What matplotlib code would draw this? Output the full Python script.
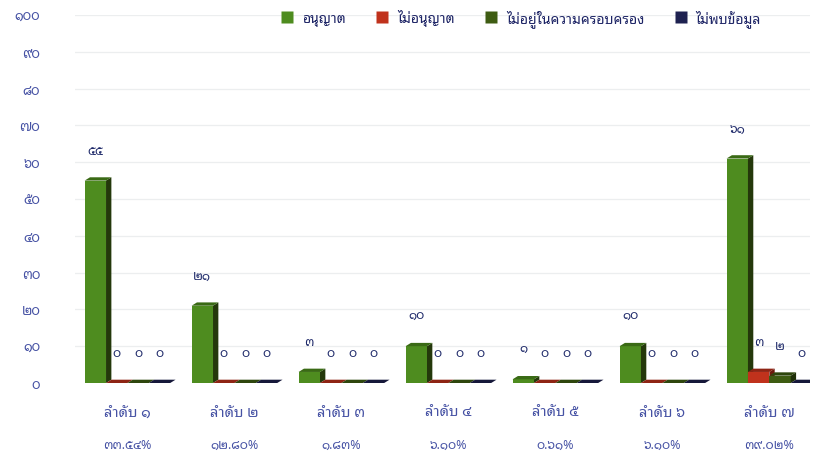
import matplotlib
matplotlib.use('Agg')
import matplotlib.pyplot as plt
from matplotlib.patches import Polygon
from matplotlib.lines import Line2D
import numpy as np

# ข้อมูลจากกราฟ
categories = ['ลำดับ ๑', 'ลำดับ ๒', 'ลำดับ ๓', 'ลำดับ ๔', 'ลำดับ ๕', 'ลำดับ ๖', 'ลำดับ ๗']
percent_labels = ['๓๓.๕๔%', '๑๒.๘๐%', '๑.๘๓%', '๖.๑๐%', '๐.๖๑%', '๖.๑๐%', '๓๙.๐๒%']
series_names = ['อนุญาต', 'ไม่อนุญาต', 'ไม่อยู่ในความครอบครอง', 'ไม่พบข้อมูล']
allowed = [55, 21, 3, 10, 1, 10, 61]
not_allowed = [0, 0, 0, 0, 0, 0, 3]
not_owned = [0, 0, 0, 0, 0, 0, 2]
not_found = [0, 0, 0, 0, 0, 0, 0]
yticks = [0, 10, 20, 30, 40, 50, 60, 70, 80, 90, 100]

face_cols = ['#4e8c1f', '#c0321c', '#3e5c12', '#1e2150']
side_cols = ['#24380b', '#6e1a0e', '#1f2f08', '#0e1028']
top_cols = ['#3a6a15', '#8e2414', '#2e460d', '#16183a']

thai = '๐๑๒๓๔๕๖๗๘๙'
def to_thai(n):
    return ''.join(thai[int(c)] for c in str(n))

plt.rcParams['font.family'] = ['Noto Sans Thai Looped', 'DejaVu Sans']

fig = plt.figure(figsize=(8.18, 4.56), dpi=100)
ax = fig.add_axes([75 / 818, 1 - 384 / 456, 735 / 818, 368 / 456])

x = np.arange(len(categories))
w = 0.2
dx = 0.05   # ความลึกแนวนอน
dy = 0.9    # ความลึกแนวตั้ง
all_series = [allowed, not_allowed, not_owned, not_found]

for gy in yticks[1:]:
    ax.axhline(gy, color='#eceeef', lw=0.9, zorder=0)

for k in range(4):
    vals = all_series[k]
    xs = x + (k - 1.5) * w
    ax.bar(xs, vals, width=w, color=face_cols[k], edgecolor='none', zorder=3 + k)
    for xi, v in zip(xs, vals):
        l = xi - w / 2
        r = xi + w / 2
        side = Polygon([(r, 0), (r + dx, dy), (r + dx, v + dy), (r, v)],
                       closed=True, facecolor=side_cols[k], edgecolor='none', zorder=3 + k)
        top = Polygon([(l, v), (l + dx, v + dy), (r + dx, v + dy), (r, v)],
                      closed=True, facecolor=top_cols[k], edgecolor='none', zorder=3 + k)
        ax.add_patch(side)
        ax.add_patch(top)
        ax.text(xi, v + 8.3, to_thai(v), ha='center', va='center', fontsize=9,
                color='#1f2a6a', zorder=10)

ax.set_xlim(-0.49, 6.38)
ax.set_ylim(0, 100)
ax.set_yticks(yticks)
ax.set_yticklabels([to_thai(t) for t in yticks], fontsize=9.5, color='#4652a4')
ax.set_xticks(x)
ax.set_xticklabels(categories, fontsize=10.5, color='#4652a4')
ax.tick_params(axis='both', length=0)
ax.tick_params(axis='y', pad=25)
ax.tick_params(axis='x', pad=16)
for s in ax.spines.values():
    s.set_visible(False)

for xi, p in zip(x, percent_labels):
    ax.text(xi, -0.166, p, transform=ax.get_xaxis_transform(), ha='center', va='center',
            fontsize=9, color='#4652a4')

handles = [Line2D([], [], marker='s', linestyle='none', markersize=8,
                  markerfacecolor=face_cols[k], markeredgecolor='none') for k in range(4)]
fig.legend(handles, series_names, loc='center', bbox_to_anchor=(517 / 818, 1 - 19 / 456),
           ncol=4, frameon=False, fontsize=10, handletextpad=0.1, columnspacing=1.6,
           labelcolor='#1e2566')

fig.savefig('out.png', dpi=100)
